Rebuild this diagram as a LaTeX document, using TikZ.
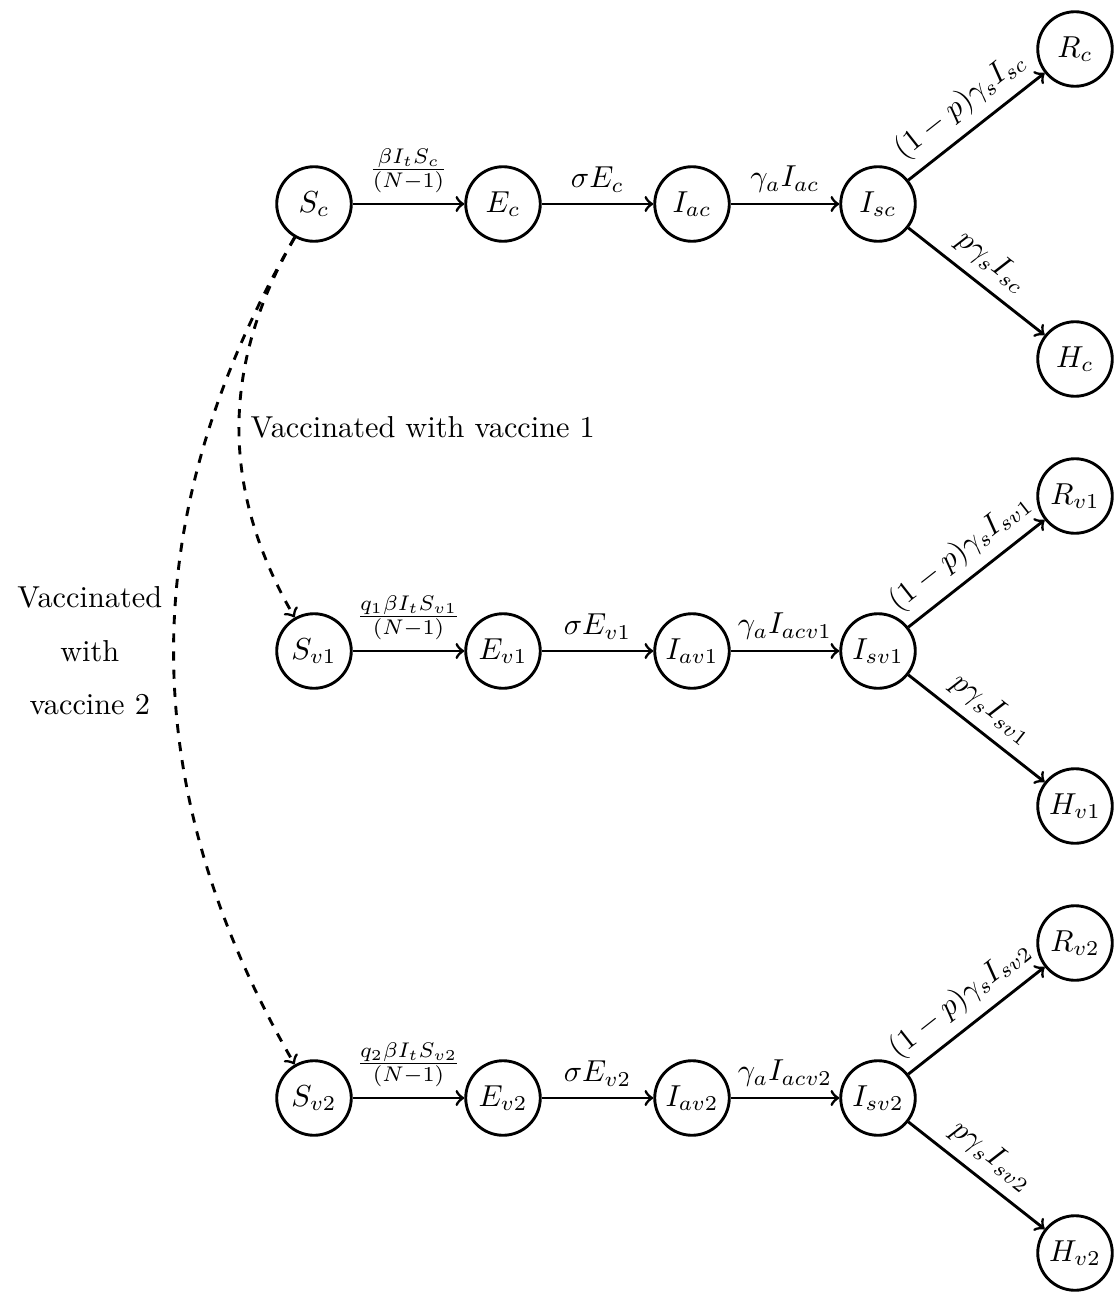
\documentclass[tikz,border=0pt]{standalone}
\usetikzlibrary{arrows}
\begin{document}
\begin{tikzpicture}[x=0.33pt,y=-0.33pt,
  comp/.style={circle,draw,line width=0.95pt,minimum size=24.6pt,inner sep=0pt},
  flow/.style={->,line width=0.95pt},
  vac/.style={->,line width=0.95pt,dashed},
  lab/.style={above,sloped}]
\useasboundingbox (0,0) rectangle (1119,1300);
% row c
\node[comp] (Sc) at (314,204) {$S_c$};
\node[comp] (Ec) at (503,204) {$E_c$};
\node[comp] (Iac) at (692,204) {$I_{ac}$};
\node[comp] (Isc) at (878,204) {$I_{sc}$};
\node[comp] (Rc) at (1075,49) {$R_c$};
\node[comp] (Hc) at (1075,359) {$H_c$};
% row v1
\node[comp] (Sv1) at (314,651) {$S_{v1}$};
\node[comp] (Ev1) at (503,651) {$E_{v1}$};
\node[comp] (Iav1) at (692,651) {$I_{av1}$};
\node[comp] (Isv1) at (878,651) {$I_{sv1}$};
\node[comp] (Rv1) at (1075,496) {$R_{v1}$};
\node[comp] (Hv1) at (1075,806) {$H_{v1}$};
% row v2
\node[comp] (Sv2) at (314,1098) {$S_{v2}$};
\node[comp] (Ev2) at (503,1098) {$E_{v2}$};
\node[comp] (Iav2) at (692,1098) {$I_{av2}$};
\node[comp] (Isv2) at (878,1098) {$I_{sv2}$};
\node[comp] (Rv2) at (1075,943) {$R_{v2}$};
\node[comp] (Hv2) at (1075,1253) {$H_{v2}$};
% flows row c
\draw[flow] (Sc) -- node[above] {$\frac{\beta I_t S_c}{(N-1)}$} (Ec);
\draw[flow] (Ec) -- node[above] {$\sigma E_c$} (Iac);
\draw[flow] (Iac) -- node[above] {$\gamma_a I_{ac}$} (Isc);
\draw[flow] (Isc) -- node[lab] {$(1-p)\gamma_s I_{sc}$} (Rc);
\draw[flow] (Isc) -- node[lab] {$p\gamma_s I_{sc}$} (Hc);
% flows row v1
\draw[flow] (Sv1) -- node[above] {$\frac{q_1\beta I_t S_{v1}}{(N-1)}$} (Ev1);
\draw[flow] (Ev1) -- node[above] {$\sigma E_{v1}$} (Iav1);
\draw[flow] (Iav1) -- node[above] {$\gamma_a I_{acv1}$} (Isv1);
\draw[flow] (Isv1) -- node[lab] {$(1-p)\gamma_s I_{sv1}$} (Rv1);
\draw[flow] (Isv1) -- node[lab] {$p\gamma_s I_{sv1}$} (Hv1);
% flows row v2
\draw[flow] (Sv2) -- node[above] {$\frac{q_2\beta I_t S_{v2}}{(N-1)}$} (Ev2);
\draw[flow] (Ev2) -- node[above] {$\sigma E_{v2}$} (Iav2);
\draw[flow] (Iav2) -- node[above] {$\gamma_a I_{acv2}$} (Isv2);
\draw[flow] (Isv2) -- node[lab] {$(1-p)\gamma_s I_{sv2}$} (Rv2);
\draw[flow] (Isv2) -- node[lab] {$p\gamma_s I_{sv2}$} (Hv2);
% vaccination
\draw[vac] (Sc) to[bend right=30] node[right] {Vaccinated with vaccine 1} (Sv1);
\draw[vac] (Sc) to[bend right=30] node[left,align=center] {Vaccinated\\[5.7pt]with\\[5.7pt]vaccine 2} (Sv2);
\end{tikzpicture}
\end{document}
